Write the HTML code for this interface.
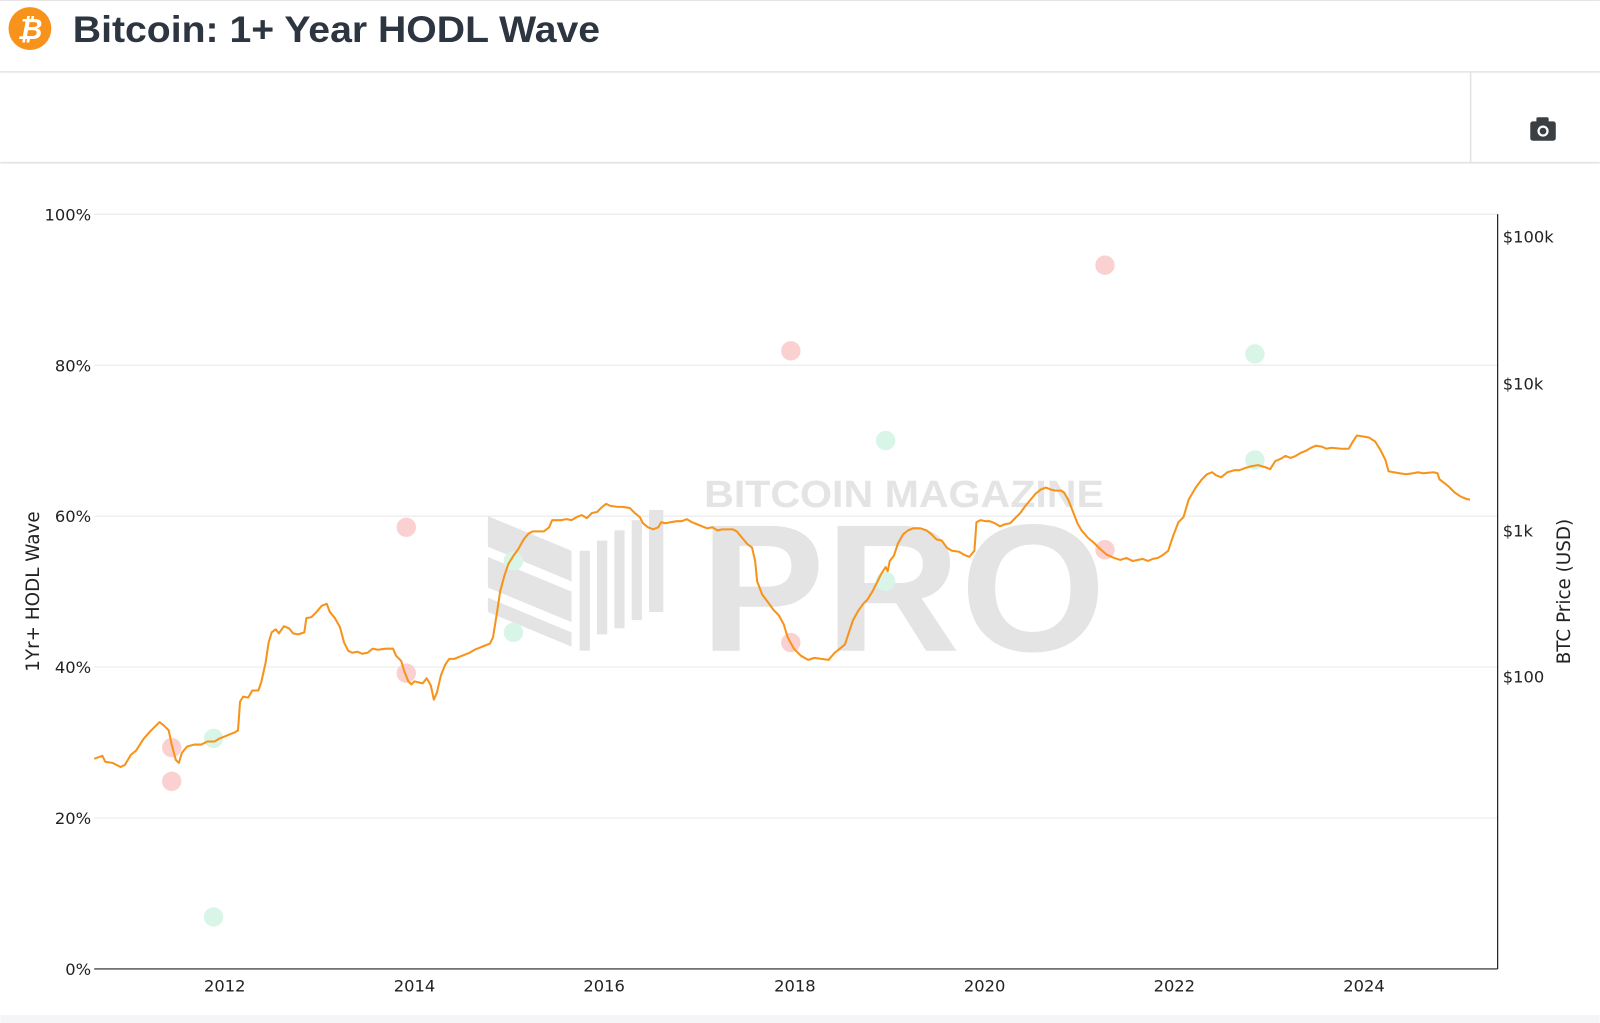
<!DOCTYPE html>
<html><head><meta charset="utf-8"><style>
html,body{margin:0;padding:0;background:#fff;width:1600px;height:1023px;overflow:hidden}
svg{display:block}
text{font-family:"DejaVu Sans","Liberation Sans",sans-serif}
</style></head><body>
<svg width="1600" height="1023" viewBox="0 0 1568 1003" xmlns="http://www.w3.org/2000/svg">
<rect x="0" y="0" width="1568" height="1003" fill="#fff"/>
<rect x="0" y="995" width="1568" height="8" fill="#f5f5f7"/>
<line x1="0" y1="0.5" x2="1568" y2="0.5" stroke="#e4e4e4"/>
<circle cx="29" cy="28" r="21" fill="#f7931a"/>
<text x="29" y="38" font-size="28" font-weight="bold" fill="#fff" text-anchor="middle" font-style="italic" style="font-family:'Liberation Sans',sans-serif">₿</text>
<text x="71" y="41" font-size="36" font-weight="bold" fill="#2c3540" textLength="517" lengthAdjust="spacingAndGlyphs" style="font-family:'Liberation Sans',sans-serif">Bitcoin: 1+ Year HODL Wave</text>
<line x1="0" y1="70.5" x2="1568" y2="70.5" stroke="#e2e2e2" stroke-width="1.5"/>
<line x1="0" y1="159.5" x2="1568" y2="159.5" stroke="#e2e2e2" stroke-width="1.5"/>
<line x1="1441.5" y1="71" x2="1441.5" y2="159" stroke="#e2e2e2" stroke-width="1.5"/>
<rect x="1500" y="119" width="25" height="19" rx="2.5" fill="#3a3f44"/>
<rect x="1506" y="115" width="12" height="6" rx="1.5" fill="#3a3f44"/>
<circle cx="1512.5" cy="128.5" r="5.5" fill="#fff"/>
<circle cx="1512.5" cy="128.5" r="3.3" fill="#3a3f44"/>
<g stroke="#e8e8e8" stroke-width="1">
<line x1="92" y1="210" x2="1468" y2="210"/>
<line x1="92" y1="358" x2="1468" y2="358"/>
<line x1="92" y1="506" x2="1468" y2="506"/>
<line x1="92" y1="654" x2="1468" y2="654"/>
<line x1="92" y1="802" x2="1468" y2="802"/>
</g>
<g fill="#e4e4e4">
<text x="690" y="497" font-size="37" font-weight="bold" textLength="392" lengthAdjust="spacingAndGlyphs" style="font-family:'Liberation Sans',sans-serif">BITCOIN MAGAZINE</text>
<text x="686" y="638" font-size="178" font-weight="bold" textLength="398" lengthAdjust="spacingAndGlyphs" style="font-family:'Liberation Sans',sans-serif">PRO</text>
<polygon points="478,506 560,540 560,570 478,536"/>
<polygon points="478,546 560,580 560,610 478,576"/>
<polygon points="478,586 560,620 560,634 478,600"/>
<rect x="568" y="540" width="10" height="98"/>
<rect x="585" y="530" width="10" height="92"/>
<rect x="602" y="520" width="10" height="96"/>
<rect x="619" y="510" width="10" height="98"/>
<rect x="636" y="500" width="14" height="100"/>
</g>
<line x1="92" y1="950" x2="1468" y2="950" stroke="#222" stroke-width="1.2"/>
<line x1="1468" y1="210" x2="1468" y2="950" stroke="#222" stroke-width="1.2"/>
<g font-size="16" fill="#222" text-anchor="end">
<text x="89" y="216">100%</text>
<text x="89" y="364">80%</text>
<text x="89" y="512">60%</text>
<text x="89" y="660">40%</text>
<text x="89" y="808">20%</text>
<text x="89" y="956">0%</text>
</g>
<g font-size="16" fill="#222">
<text x="1473" y="238">$100k</text>
<text x="1473" y="382">$10k</text>
<text x="1473" y="526">$1k</text>
<text x="1473" y="669">$100</text>
</g>
<g font-size="16" fill="#222" text-anchor="middle">
<text x="220" y="972">2012</text>
<text x="406" y="972">2014</text>
<text x="592" y="972">2016</text>
<text x="779" y="972">2018</text>
<text x="965" y="972">2020</text>
<text x="1151" y="972">2022</text>
<text x="1337" y="972">2024</text>
</g>
<text transform="translate(38,580) rotate(-90)" font-size="18" fill="#222" text-anchor="middle">1Yr+ HODL Wave</text>
<text transform="translate(1539,580) rotate(-90)" font-size="18" fill="#222" text-anchor="middle">BTC Price (USD)</text>
<g fill="#fbd0d0">
<circle cx="168" cy="733" r="9.5"/><circle cx="168" cy="766" r="9.5"/>
<circle cx="398" cy="517" r="9.5"/><circle cx="398" cy="660" r="9.5"/>
<circle cx="775" cy="344" r="9.5"/><circle cx="775" cy="630" r="9.5"/>
<circle cx="1083" cy="260" r="9.5"/><circle cx="1083" cy="539" r="9.5"/>
</g>
<g fill="#d8f5e8">
<circle cx="209" cy="724" r="9.5"/><circle cx="209" cy="899" r="9.5"/>
<circle cx="503" cy="550" r="9.5"/><circle cx="503" cy="620" r="9.5"/>
<circle cx="868" cy="432" r="9.5"/><circle cx="868" cy="570" r="9.5"/>
<circle cx="1230" cy="347" r="9.5"/><circle cx="1230" cy="451" r="9.5"/>
</g>
<polyline fill="none" stroke="#f7931a" stroke-width="2" stroke-linejoin="round" points="92,744 100,741 103,747 110,748 118,752 122,750 128,740 133,736 140,725 146,718 152,712 156,708 160,711 165,716 168,730 172,745 175,748 178,738 183,732 190,730 197,730 203,727 210,727 215,724 220,722 225,720 230,718 233,716 235,688 238,683 243,684 247,677 253,677 256,668 260,650 263,630 266,620 270,617 273,621 278,614 283,616 287,621 292,622 298,620 300,606 305,605 310,600 315,594 320,592 323,600 328,606 333,615 337,630 341,638 345,640 350,639 355,641 360,640 365,636 370,637 378,636 385,636 388,643 393,648 396,658 400,668 403,671 406,668 410,669 414,670 418,665 422,672 425,686 428,679 432,662 436,652 440,646 445,646 450,644 455,642 460,640 465,637 470,635 475,633 480,631 483,625 487,600 490,580 494,565 498,553 503,545 508,538 513,529 518,523 522,521 528,521 533,521 538,517 541,510 546,510 550,510 555,509 560,510 565,507 570,505 575,508 580,503 585,502 590,497 594,494 598,496 605,497 610,497 617,498 622,503 627,507 630,513 635,517 640,519 645,517 648,512 652,513 657,512 663,511 668,511 673,509 678,512 683,514 688,516 693,518 698,517 703,520 708,519 713,519 718,519 722,521 727,527 732,533 737,537 740,550 742,570 747,583 753,591 758,598 763,603 768,612 772,625 778,636 785,643 792,647 798,645 805,646 812,647 818,640 823,636 828,632 832,620 836,608 841,599 846,592 850,588 855,580 860,570 864,562 868,556 870,560 872,550 876,545 880,533 885,524 890,520 895,518 902,518 908,520 913,524 918,529 923,530 928,537 933,540 940,541 945,544 950,546 955,540 957,512 961,510 966,511 970,511 975,513 980,516 985,514 990,513 995,508 1000,503 1005,496 1010,490 1015,484 1020,480 1025,478 1030,480 1035,481 1040,481 1043,483 1047,490 1051,500 1056,513 1060,520 1066,527 1072,532 1078,538 1085,544 1092,547 1098,549 1104,547 1110,550 1115,549 1120,548 1125,550 1130,548 1135,547 1140,544 1145,540 1150,525 1155,512 1160,507 1165,490 1172,478 1178,470 1183,465 1188,463 1192,466 1197,468 1203,463 1210,461 1215,461 1220,459 1227,457 1233,456 1240,458 1245,460 1250,452 1255,450 1260,447 1265,449 1270,447 1275,444 1280,442 1285,439 1290,437 1296,438 1300,440 1305,439 1315,440 1322,440 1326,433 1330,427 1336,428 1342,429 1348,433 1353,441 1358,451 1361,462 1366,463 1372,464 1378,465 1385,464 1390,463 1395,464 1405,463 1409,464 1411,470 1415,473 1420,477 1426,483 1432,487 1437,489 1441,490"/>
</svg>
</body></html>
